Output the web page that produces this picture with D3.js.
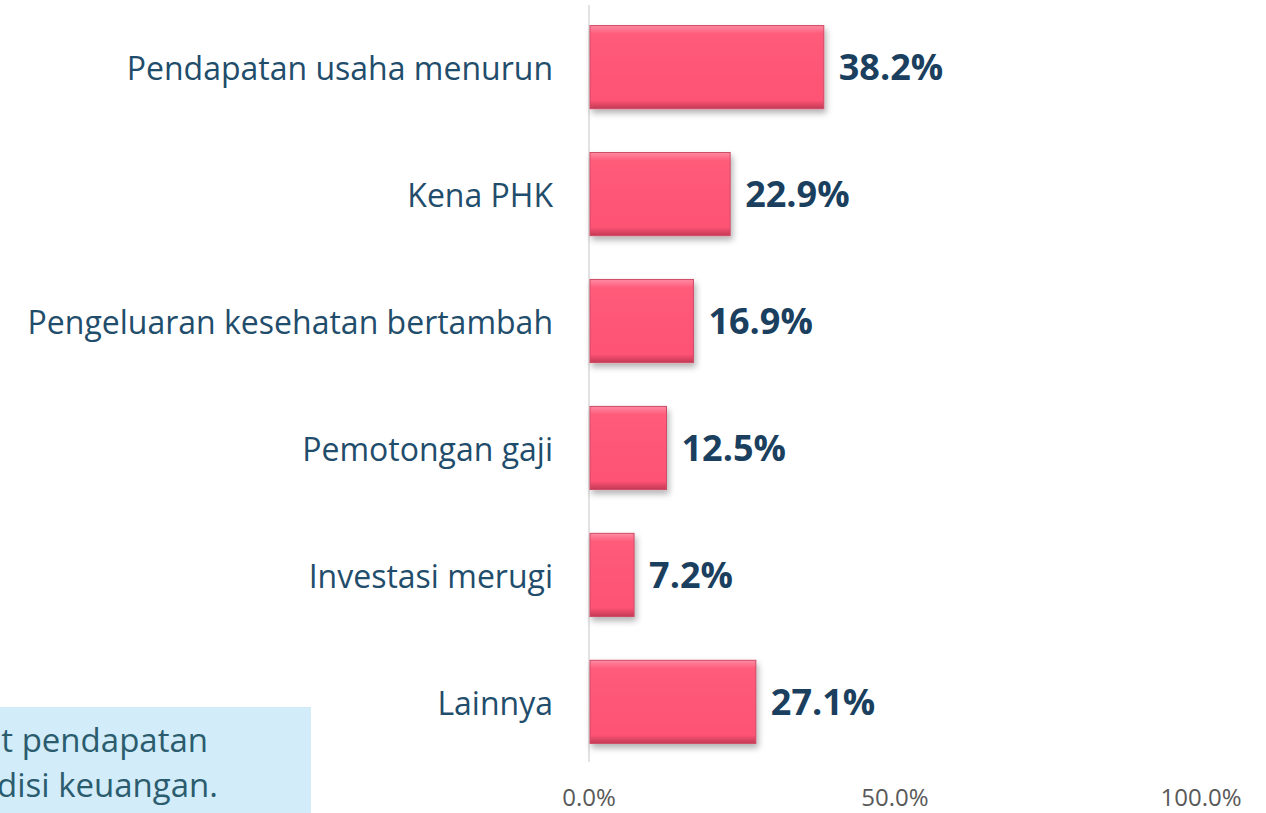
<!DOCTYPE html>
<html>
<head>
<meta charset="utf-8">
<script src="https://cdn.jsdelivr.net/npm/d3@7"></script>
<style>
  body { margin: 0; background: #fff; }
  svg { display: block; font-family: "Open Sans", "Noto Sans", sans-serif; }
</style>
</head>
<body>
<div id="chart"></div>
<script>
var categories = ["Pendapatan usaha menurun", "Kena PHK", "Pengeluaran kesehatan bertambah",
    "Pemotongan gaji", "Investasi merugi", "Lainnya"]
var values = [38.2, 22.9, 16.9, 12.5, 7.2, 27.1]
var ticks = [0, 50, 100]
var noteLines = ["tingkat pendapatan", "kondisi keuangan."]

var width = 1266, height = 813

var svg = d3.select("#chart").append("svg")
    .attr("width", width)
    .attr("height", height)

var defs = svg.append("defs")

// bevel look on the bars
var grad = defs.append("linearGradient")
    .attr("id", "barGrad")
    .attr("x1", "0%").attr("y1", "0%")
    .attr("x2", "0%").attr("y2", "100%")
grad.append("stop").attr("offset", "0%").attr("stop-color", "#ff8ba3")
grad.append("stop").attr("offset", "10%").attr("stop-color", "#ff5b7a")
grad.append("stop").attr("offset", "90%").attr("stop-color", "#fd5274")
grad.append("stop").attr("offset", "100%").attr("stop-color", "#c23a55")

var shadow = defs.append("filter").attr("id", "shadow")
    .attr("x", "-10%").attr("y", "-10%").attr("width", "130%").attr("height", "140%")
shadow.append("feDropShadow")
    .attr("dx", 2).attr("dy", 4).attr("stdDeviation", 3)
    .attr("flood-color", "#000").attr("flood-opacity", 0.3)

var x = d3.scaleLinear()
    .domain([0, 100])
    .range([589, 1201])

var y = d3.scaleBand()
    .domain(categories)
    .range([4, 765])
    .paddingInner(0.345)
    .paddingOuter(0.17)

// vertical axis line
svg.append("line")
    .attr("x1", x(0)).attr("x2", x(0))
    .attr("y1", 5).attr("y2", 762)
    .attr("stroke", "#d9d9d9")
    .attr("stroke-width", 1.5)

// bars
svg.selectAll(".bar")
    .data(values)
    .enter()
    .append("rect")
    .attr("class", "bar")
    .attr("x", x(0) + 1)
    .attr("y", (d, i) => y(categories[i]))
    .attr("width", d => x(d) - x(0))
    .attr("height", y.bandwidth())
    .attr("fill", "url(#barGrad)")
    .attr("stroke", "#d04a66")
    .attr("stroke-width", 1)
    .attr("filter", "url(#shadow)")

// category labels
svg.selectAll(".cat")
    .data(categories)
    .enter()
    .append("text")
    .attr("class", "cat")
    .attr("x", 553)
    .attr("y", d => y(d) + y.bandwidth() / 2)
    .attr("dy", "0.4em")
    .attr("text-anchor", "end")
    .attr("fill", "#1f4d6b")
    .style("font-size", "32px")
    .text(d => d)

// value labels
svg.selectAll(".val")
    .data(values)
    .enter()
    .append("text")
    .attr("class", "val")
    .attr("x", d => x(d) + 16)
    .attr("y", (d, i) => y(categories[i]) + y.bandwidth() / 2)
    .attr("dy", "0.36em")
    .attr("fill", "#1b3f5e")
    .style("font-size", "36px")
    .style("font-weight", "bold")
    .text(d => d.toFixed(1) + "%")

// x tick labels
svg.selectAll(".tick")
    .data(ticks)
    .enter()
    .append("text")
    .attr("class", "tick")
    .attr("x", d => x(d))
    .attr("y", 806)
    .attr("text-anchor", "middle")
    .attr("fill", "#595959")
    .style("font-size", "24px")
    .text(d => d.toFixed(1) + "%")

// note box at bottom left (cut off by the frame)
svg.append("rect")
    .attr("x", 0).attr("y", 707)
    .attr("width", 311).attr("height", 106)
    .attr("fill", "#d2ecf9")

svg.selectAll(".note")
    .data(noteLines)
    .enter()
    .append("text")
    .attr("class", "note")
    .attr("x", (d, i) => i === 0 ? 208 : 218)
    .attr("y", (d, i) => 752 + i * 45)
    .attr("text-anchor", "end")
    .attr("fill", "#2b5c6e")
    .style("font-size", "33px")
    .text(d => d)
</script>
</body>
</html>
